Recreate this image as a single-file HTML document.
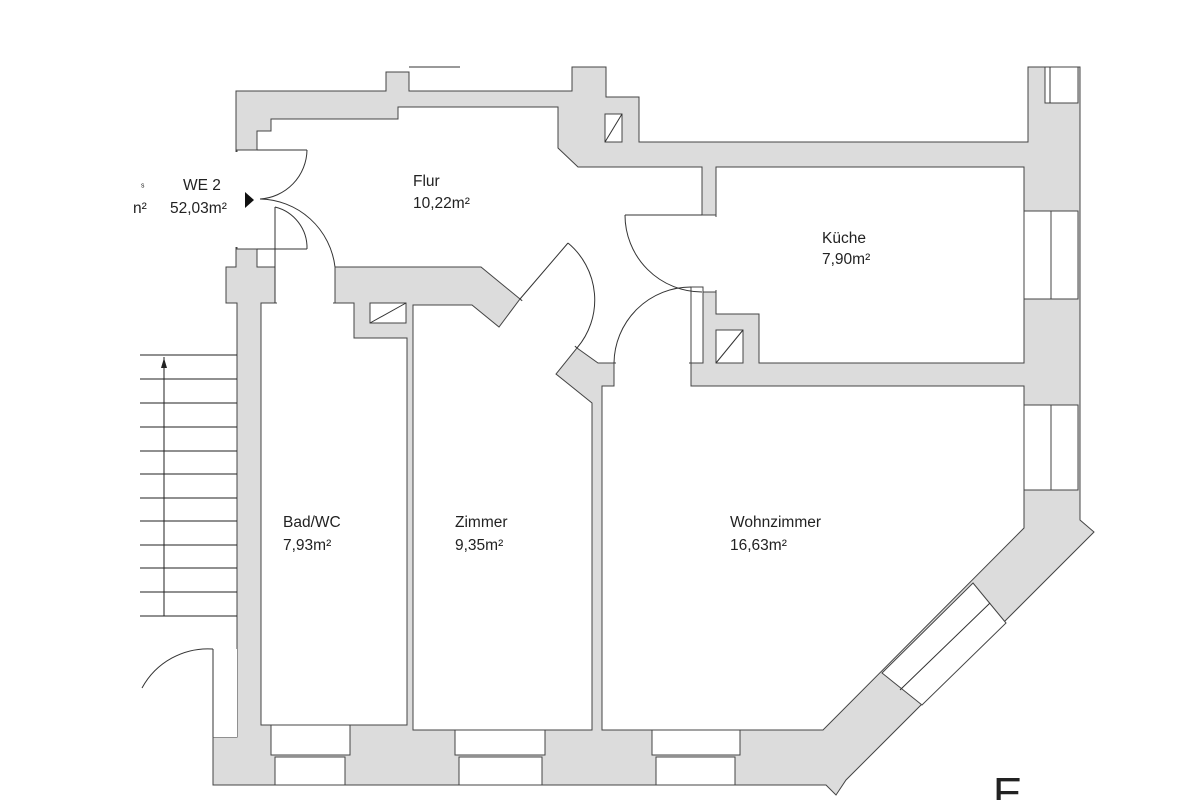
<!DOCTYPE html>
<html><head><meta charset="utf-8"><style>
html,body{margin:0;padding:0;background:#fff;}
svg{display:block;}
text{font-family:"Liberation Sans",sans-serif;font-size:15.5px;fill:#222;}
</style></head><body>
<svg width="1200" height="800" viewBox="0 0 1200 800" xmlns="http://www.w3.org/2000/svg">
<rect width="1200" height="800" fill="#fff"/>
<g stroke="#444" stroke-width="1" fill="#dcdcdc">
<polygon points="236,91 386,91 386,72 409,72 409,91 572,91 572,67 606,67 606,97 639,97 639,142 1028,142 1028,67 1080,67 1080,520 1094,532 846,780 836,795 826,785 213,785 213,737 237,737 237,303 226,303 226,267 236,267 236,249 236,150"/>
</g>
<g stroke="#444" stroke-width="1" fill="#fff">
<polygon points="257,131 271,131 271,119 398,119 398,107 558,107 558,148 578,167 702,167 702,215 716,215 716,292 691,292 691,363 614,363 598,363 577,348 520,299 481,267 335,267 335,303 275,303 275,267 257,267 257,249 237,249 237,150 257,150"/>
<polygon points="716,167 1024,167 1024,363 759,363 759,314 716,314"/>
<polygon points="261,303 354,303 354,338 407,338 407,725 261,725"/>
<polygon points="413,305 472,305 499,327 520,299 577,348 556,374 592,403 592,730 413,730"/>
<polygon points="614,363 691,363 691,386 1024,386 1024,528 823,730 602,730 602,386 614,386"/>
<rect x="691" y="287" width="12" height="76"/>
<rect x="370" y="303" width="36" height="20"/>
<rect x="605" y="114" width="17" height="28"/>
<rect x="716" y="330" width="27" height="33"/>
<rect x="271" y="725" width="79" height="30"/><rect x="275" y="757" width="70" height="28"/>
<rect x="455" y="730" width="90" height="25"/><rect x="459" y="757" width="83" height="28"/>
<rect x="652" y="730" width="88" height="25"/><rect x="656" y="757" width="79" height="28"/>
<rect x="1024" y="211" width="27" height="88"/><rect x="1051" y="211" width="27" height="88"/>
<rect x="1024" y="405" width="27" height="85"/><rect x="1051" y="405" width="27" height="85"/>
<rect x="1045" y="67" width="33" height="36"/>
<polygon points="973,583 1006,623 922,705 882,673"/>
<rect x="257" y="249" width="18" height="18"/>
<rect x="213" y="649" width="24" height="88" fill="#fff" stroke="none"/>
</g>
<!-- erase lines across openings -->
<g stroke="#fff" stroke-width="3" fill="none">
<line x1="237" y1="152" x2="237" y2="247"/>
<line x1="277" y1="303" x2="333" y2="303"/>
<line x1="522" y1="301" x2="575" y2="346"/>
<line x1="716" y1="217" x2="716" y2="290"/>
<line x1="616" y1="363" x2="689" y2="363"/>
</g>
<g stroke="#333" stroke-width="1" fill="none">
<line x1="370" y1="323" x2="406" y2="303"/>
<line x1="605" y1="142" x2="622" y2="114"/>
<line x1="716" y1="363" x2="743" y2="330"/>
<line x1="900" y1="690" x2="990" y2="603"/>
<line x1="1050" y1="67" x2="1050" y2="103"/>
<line x1="409" y1="67" x2="460" y2="67"/>
<line x1="257" y1="150" x2="307" y2="150"/>
<path d="M307,150 A50,50 0 0 1 260,199"/>
<line x1="275" y1="207" x2="275" y2="303"/>
<path d="M260,199 A77,77 0 0 1 335,267"/>
<path d="M275,207 A42,42 0 0 1 307,249"/>
<line x1="257" y1="249" x2="307" y2="249"/>
<line x1="520" y1="299" x2="568" y2="243"/>
<path d="M568,243 A74,74 0 0 1 577,348"/>
<line x1="625" y1="215" x2="702" y2="215"/>
<path d="M625,215 A77,77 0 0 0 702,292"/>
<path d="M614,363 A77,77 0 0 1 691,287"/>
<line x1="213" y1="649" x2="213" y2="737"/>
<path d="M213,649 A75,75 0 0 0 142,688"/>
<g stroke="#222">
<line x1="140" y1="355" x2="237" y2="355"/><line x1="140" y1="379" x2="237" y2="379"/>
<line x1="140" y1="403" x2="237" y2="403"/><line x1="140" y1="427" x2="237" y2="427"/>
<line x1="140" y1="451" x2="237" y2="451"/><line x1="140" y1="474" x2="237" y2="474"/>
<line x1="140" y1="498" x2="237" y2="498"/><line x1="140" y1="521" x2="237" y2="521"/>
<line x1="140" y1="545" x2="237" y2="545"/><line x1="140" y1="568" x2="237" y2="568"/>
<line x1="140" y1="592" x2="237" y2="592"/><line x1="140" y1="616" x2="237" y2="616"/>
<line x1="164" y1="357" x2="164" y2="616"/>
</g>
</g>
<polygon points="161,368 164,358 167,368" fill="#222"/>
<polygon points="245,192 254,200 245,208" fill="#111"/>
<text x="141" y="190" style="font-size:10px">ˢ</text>
<text x="133" y="213">n²</text>
<text x="183" y="190">WE 2</text>
<text x="170" y="213">52,03m²</text>
<text x="413" y="186">Flur</text>
<text x="413" y="208">10,22m²</text>
<text x="822" y="243">Küche</text>
<text x="822" y="264">7,90m²</text>
<text x="283" y="527">Bad/WC</text>
<text x="283" y="550">7,93m²</text>
<text x="455" y="527">Zimmer</text>
<text x="455" y="550">9,35m²</text>
<text x="730" y="527">Wohnzimmer</text>
<text x="730" y="550">16,63m²</text>
<text x="993" y="808" style="font-size:44px">E</text>
</svg>
</body></html>
